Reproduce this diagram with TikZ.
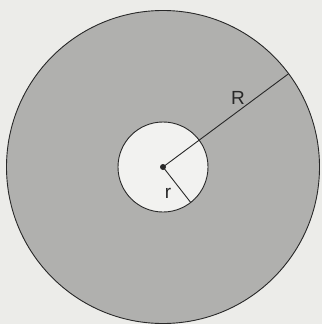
\documentclass[tikz,border=0pt]{standalone}
\usepackage{fontspec}
\setmainfont{Liberation Sans}
\usetikzlibrary{calc}
\definecolor{paper}{RGB}{236,236,233}
\definecolor{ring}{RGB}{176,176,174}
\definecolor{hole}{RGB}{242,242,240}
\definecolor{ink}{RGB}{40,40,40}
\begin{document}
\begin{tikzpicture}[x=1pt,y=-1pt,
  edge/.style={draw=ink,line width=0.9pt},
  lbl/.style={font=\fontsize{19}{19}\selectfont,text=ink,inner sep=0pt}]
\fill[paper] (0,0) rectangle (322,324);
\useasboundingbox (0,0) rectangle (322,324);
\coordinate (O) at (163,167);
\fill[ring] (O) circle[radius=156.5];
\draw[edge] (O) circle[radius=156.5];
\fill[hole] (O) circle[radius=45];
\draw[edge] (O) circle[radius=45];
\coordinate (Rend) at ($(O)+(-36.6:156.5)$);
\coordinate (rend) at ($(O)+(52:45)$);
\draw[edge] (O) -- (Rend);
\draw[edge] (O) -- (rend);
\fill[ink] (O) circle[radius=3];
\node[lbl] (Rl) at (238,98) {R};
\node[lbl] (rl) at (168,193) {r};
\end{tikzpicture}
\end{document}
